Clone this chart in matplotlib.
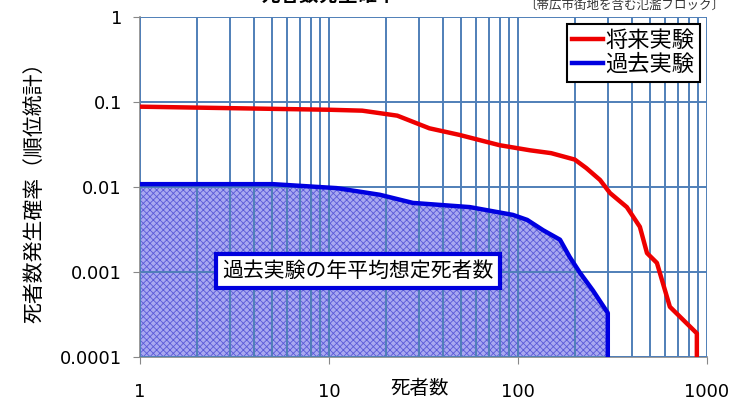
import matplotlib
matplotlib.use("Agg")
import matplotlib.pyplot as plt
from matplotlib.ticker import LogLocator, FixedLocator, NullFormatter, FixedFormatter

plt.rcParams['font.family'] = ['Noto Sans CJK JP', 'DejaVu Sans']
plt.rcParams['hatch.linewidth'] = 0.6

# Future experiment (red)
future_n = [1, 2.6, 5, 10, 15, 23, 34, 49, 80, 116, 150, 200, 230, 272, 307, 377, 442, 482, 544,
            637, 885, 885]
future_p = [0.088, 0.085, 0.083, 0.081, 0.079, 0.069, 0.049, 0.041, 0.031, 0.027, 0.025, 0.021,
            0.0167, 0.0121, 0.0085, 0.0058, 0.0034, 0.00167, 0.00128, 0.00039, 0.00019, 0.0001]
# Past experiment (blue)
past_n = [1, 5.06, 11, 18.6, 27.8, 55.7, 94, 112, 136, 167, 188, 213, 249, 299, 299]
past_p = [0.0108, 0.0108, 0.0097, 0.0081, 0.0065, 0.0058, 0.0047, 0.0041, 0.0031, 0.0024,
          0.0015, 0.00098, 0.00061, 0.00033, 0.0001]

x_ticks = [1, 10, 100, 1000]
x_labels = ['1', '10', '100', '1000']
y_ticks = [0.0001, 0.001, 0.01, 0.1, 1]
y_labels = ['0.0001', '0.001', '0.01', '0.1', '1']

fig = plt.figure(figsize=(7.31, 4.03), dpi=100)
ax = fig.add_axes([0.1915, 0.114, 0.7755, 0.844])
ax.set_xscale('log')
ax.set_yscale('log')
ax.set_xlim(1, 1000)
ax.set_ylim(0.0001, 1)

gridc = '#4f7fb8'
ax.fill_between(past_n, past_p, 0.0001, facecolor='#a8a8f0', edgecolor='#5a5ad8',
                hatch='xxxxx', linewidth=0, zorder=1)

ax.xaxis.set_major_locator(FixedLocator(x_ticks))
ax.xaxis.set_major_formatter(FixedFormatter(x_labels))
ax.xaxis.set_minor_locator(LogLocator(base=10, subs=range(2, 10)))
ax.xaxis.set_minor_formatter(NullFormatter())
ax.yaxis.set_major_locator(FixedLocator(y_ticks))
ax.yaxis.set_major_formatter(FixedFormatter(y_labels))
ax.yaxis.set_minor_locator(plt.NullLocator())

ax.grid(True, which='both', axis='x', color=gridc, linewidth=1.4, zorder=2)
ax.grid(True, which='major', axis='y', color=gridc, linewidth=1.4, zorder=2)
ax.set_axisbelow(False)
for ln in ax.get_xgridlines() + ax.get_ygridlines():
    ln.set_zorder(2)

ax.plot(past_n, past_p, color='#0000e0', linewidth=3.2, zorder=4, label='過去実験')
ax.plot(future_n, future_p, color='#ee0000', linewidth=3.2, zorder=4, label='将来実験')

for s in ['top', 'right']:
    ax.spines[s].set_visible(False)
for s in ['left', 'bottom']:
    ax.spines[s].set_color('#888888')
    ax.spines[s].set_linewidth(1.2)
ax.tick_params(axis='both', which='major', direction='out', length=5, color='#888888')
ax.tick_params(axis='x', which='major', pad=14)
ax.tick_params(axis='y', which='major', pad=8)
ax.tick_params(axis='x', which='minor', length=0)
for lbl in ax.get_xticklabels() + ax.get_yticklabels():
    lbl.set_fontfamily(['DejaVu Sans'])
    lbl.set_fontsize(13)

ax.set_ylabel('死者数発生確率（順位統計）', fontsize=15, labelpad=10)
fig.text(420 / 731, 1 - 389 / 403, '死者数', fontsize=14, ha='center', va='center')

handles, labels = ax.get_legend_handles_labels()
leg = ax.legend(handles[::-1], labels[::-1], loc='upper right', fontsize=16,
                frameon=True, fancybox=False, edgecolor='black', framealpha=1,
                borderaxespad=0.3, handlelength=1.4, labelspacing=0.05, borderpad=0.25,
                handletextpad=0.1)
leg.get_frame().set_linewidth(1.5)
leg.set_zorder(6)

ax.text(0.385, 0.253, '過去実験の年平均想定死者数', transform=ax.transAxes, fontsize=15,
        ha='center', va='center', zorder=6,
        bbox=dict(boxstyle='square,pad=0.3', facecolor='white', edgecolor='#0000dd', linewidth=3))

fig.text(0.45, 1.012, '死者数発生確率', fontsize=14, fontweight='bold', ha='center', va='center')
fig.text(0.99, 0.988, '〔帯広市街地を含む氾濫ブロック〕', fontsize=9, ha='right', va='center', color='#333333')

fig.savefig('out.png', dpi=100)
